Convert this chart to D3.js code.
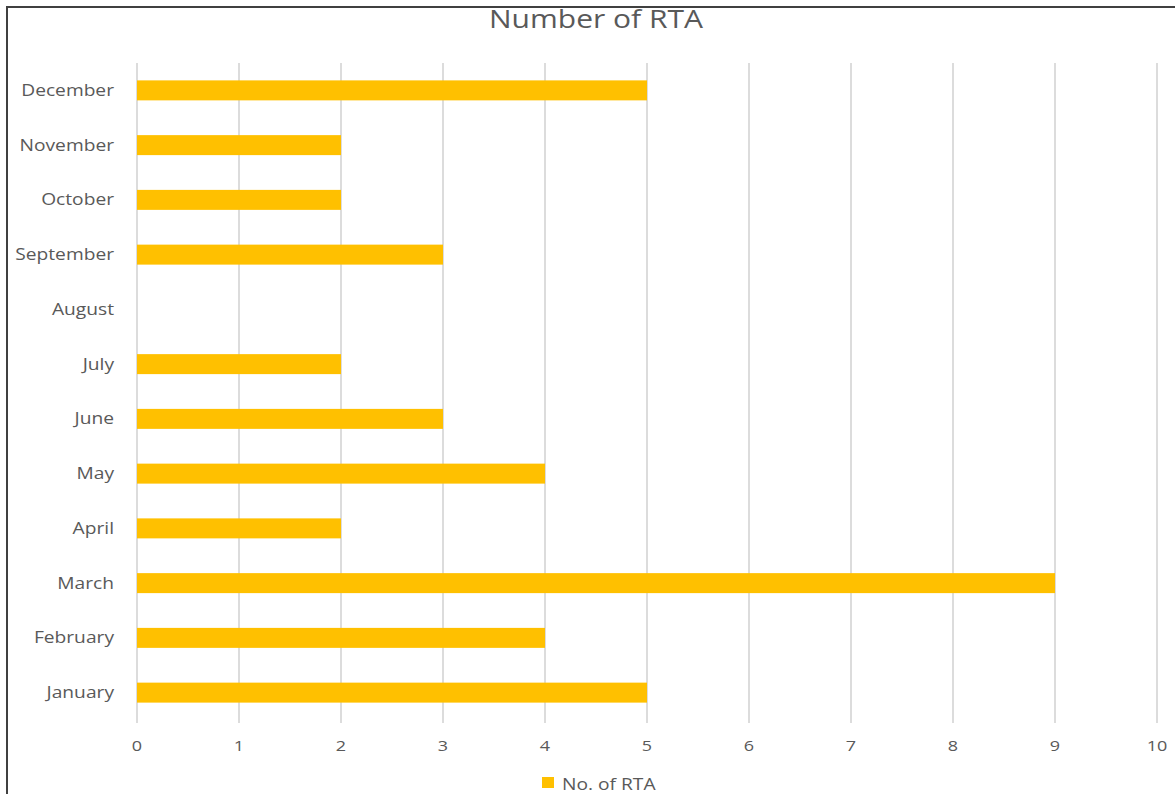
<!DOCTYPE html>
<html>
<head>
<meta charset="utf-8">
<script src="https://cdn.jsdelivr.net/npm/d3@7"></script>
<style>
  body { margin: 0; background: #fff; }
  text { font-family: "Open Sans", sans-serif; fill: #595959; }
</style>
</head>
<body>
<div id="chart"></div>
<script>
// data
var months = ['January', 'February', 'March', 'April', 'May', 'June',
  'July', 'August', 'September', 'October', 'November', 'December'];
var rtaCounts = [5, 4, 9, 2, 4, 3, 2, 0, 3, 2, 2, 5];
var xTicks = [0, 1, 2, 3, 4, 5, 6, 7, 8, 9, 10];
var seriesName = 'No. of RTA';
var chartTitle = 'Number of RTA';

var width = 1175,
  height = 794,
  sx = 1.2; // the reference looks stretched sideways, so text is too

var margin = { top: 63, right: 18, bottom: 74, left: 137 };

var svg = d3.select('#chart')
  .append('svg')
  .attr('width', width)
  .attr('height', height);

// outer frame (left and top edges only show in the picture)
svg.append('path')
  .attr('d', 'M7,' + height + 'V7H' + width)
  .attr('fill', 'none')
  .attr('stroke', '#404040')
  .attr('stroke-width', 2);

var x = d3.scaleLinear()
  .domain([0, 10])
  .range([margin.left, width - margin.right]);

var y = d3.scaleBand()
  .domain(months)
  .range([height - margin.bottom, margin.top])
  .paddingInner(0.635)
  .paddingOuter(0.3175);

// stretched text helper
function stretchedText(sel, tx, ty, anchor) {
  return sel.append('text')
    .attr('transform', 'translate(' + tx + ',' + ty + ') scale(' + sx + ',1)')
    .attr('text-anchor', anchor);
}

// gridlines
svg.append('g')
  .selectAll('line')
  .data(xTicks)
  .enter()
  .append('line')
  .attr('x1', function (d) { return x(d); })
  .attr('x2', function (d) { return x(d); })
  .attr('y1', margin.top)
  .attr('y2', height - margin.bottom + 3)
  .attr('stroke', '#dcdcdc')
  .attr('stroke-width', 2);

// bars
svg.append('g')
  .selectAll('rect')
  .data(months)
  .enter()
  .append('rect')
  .attr('x', x(0))
  .attr('y', function (d) { return y(d); })
  .attr('width', function (d, i) { return x(rtaCounts[i]) - x(0); })
  .attr('height', y.bandwidth())
  .attr('fill', '#ffc000');

// month labels
var yLab = svg.append('g');
months.forEach(function (m) {
  stretchedText(yLab, x(0) - 23, y(m) + y.bandwidth() / 2 + 5.5, 'end')
    .style('font-size', '16px')
    .text(m);
});

// x tick labels
var xLab = svg.append('g');
xTicks.forEach(function (t) {
  stretchedText(xLab, x(t), 751, 'middle')
    .style('font-size', '15px')
    .text(t);
});

// title
stretchedText(svg, 596, 28, 'middle')
  .style('font-size', '25px')
  .text(chartTitle);

// legend
svg.append('rect')
  .attr('x', 542)
  .attr('y', 777)
  .attr('width', 12)
  .attr('height', 11)
  .attr('fill', '#ffc000');
stretchedText(svg, 562, 790, 'start')
  .style('font-size', '16px')
  .text(seriesName);
</script>
</body>
</html>
